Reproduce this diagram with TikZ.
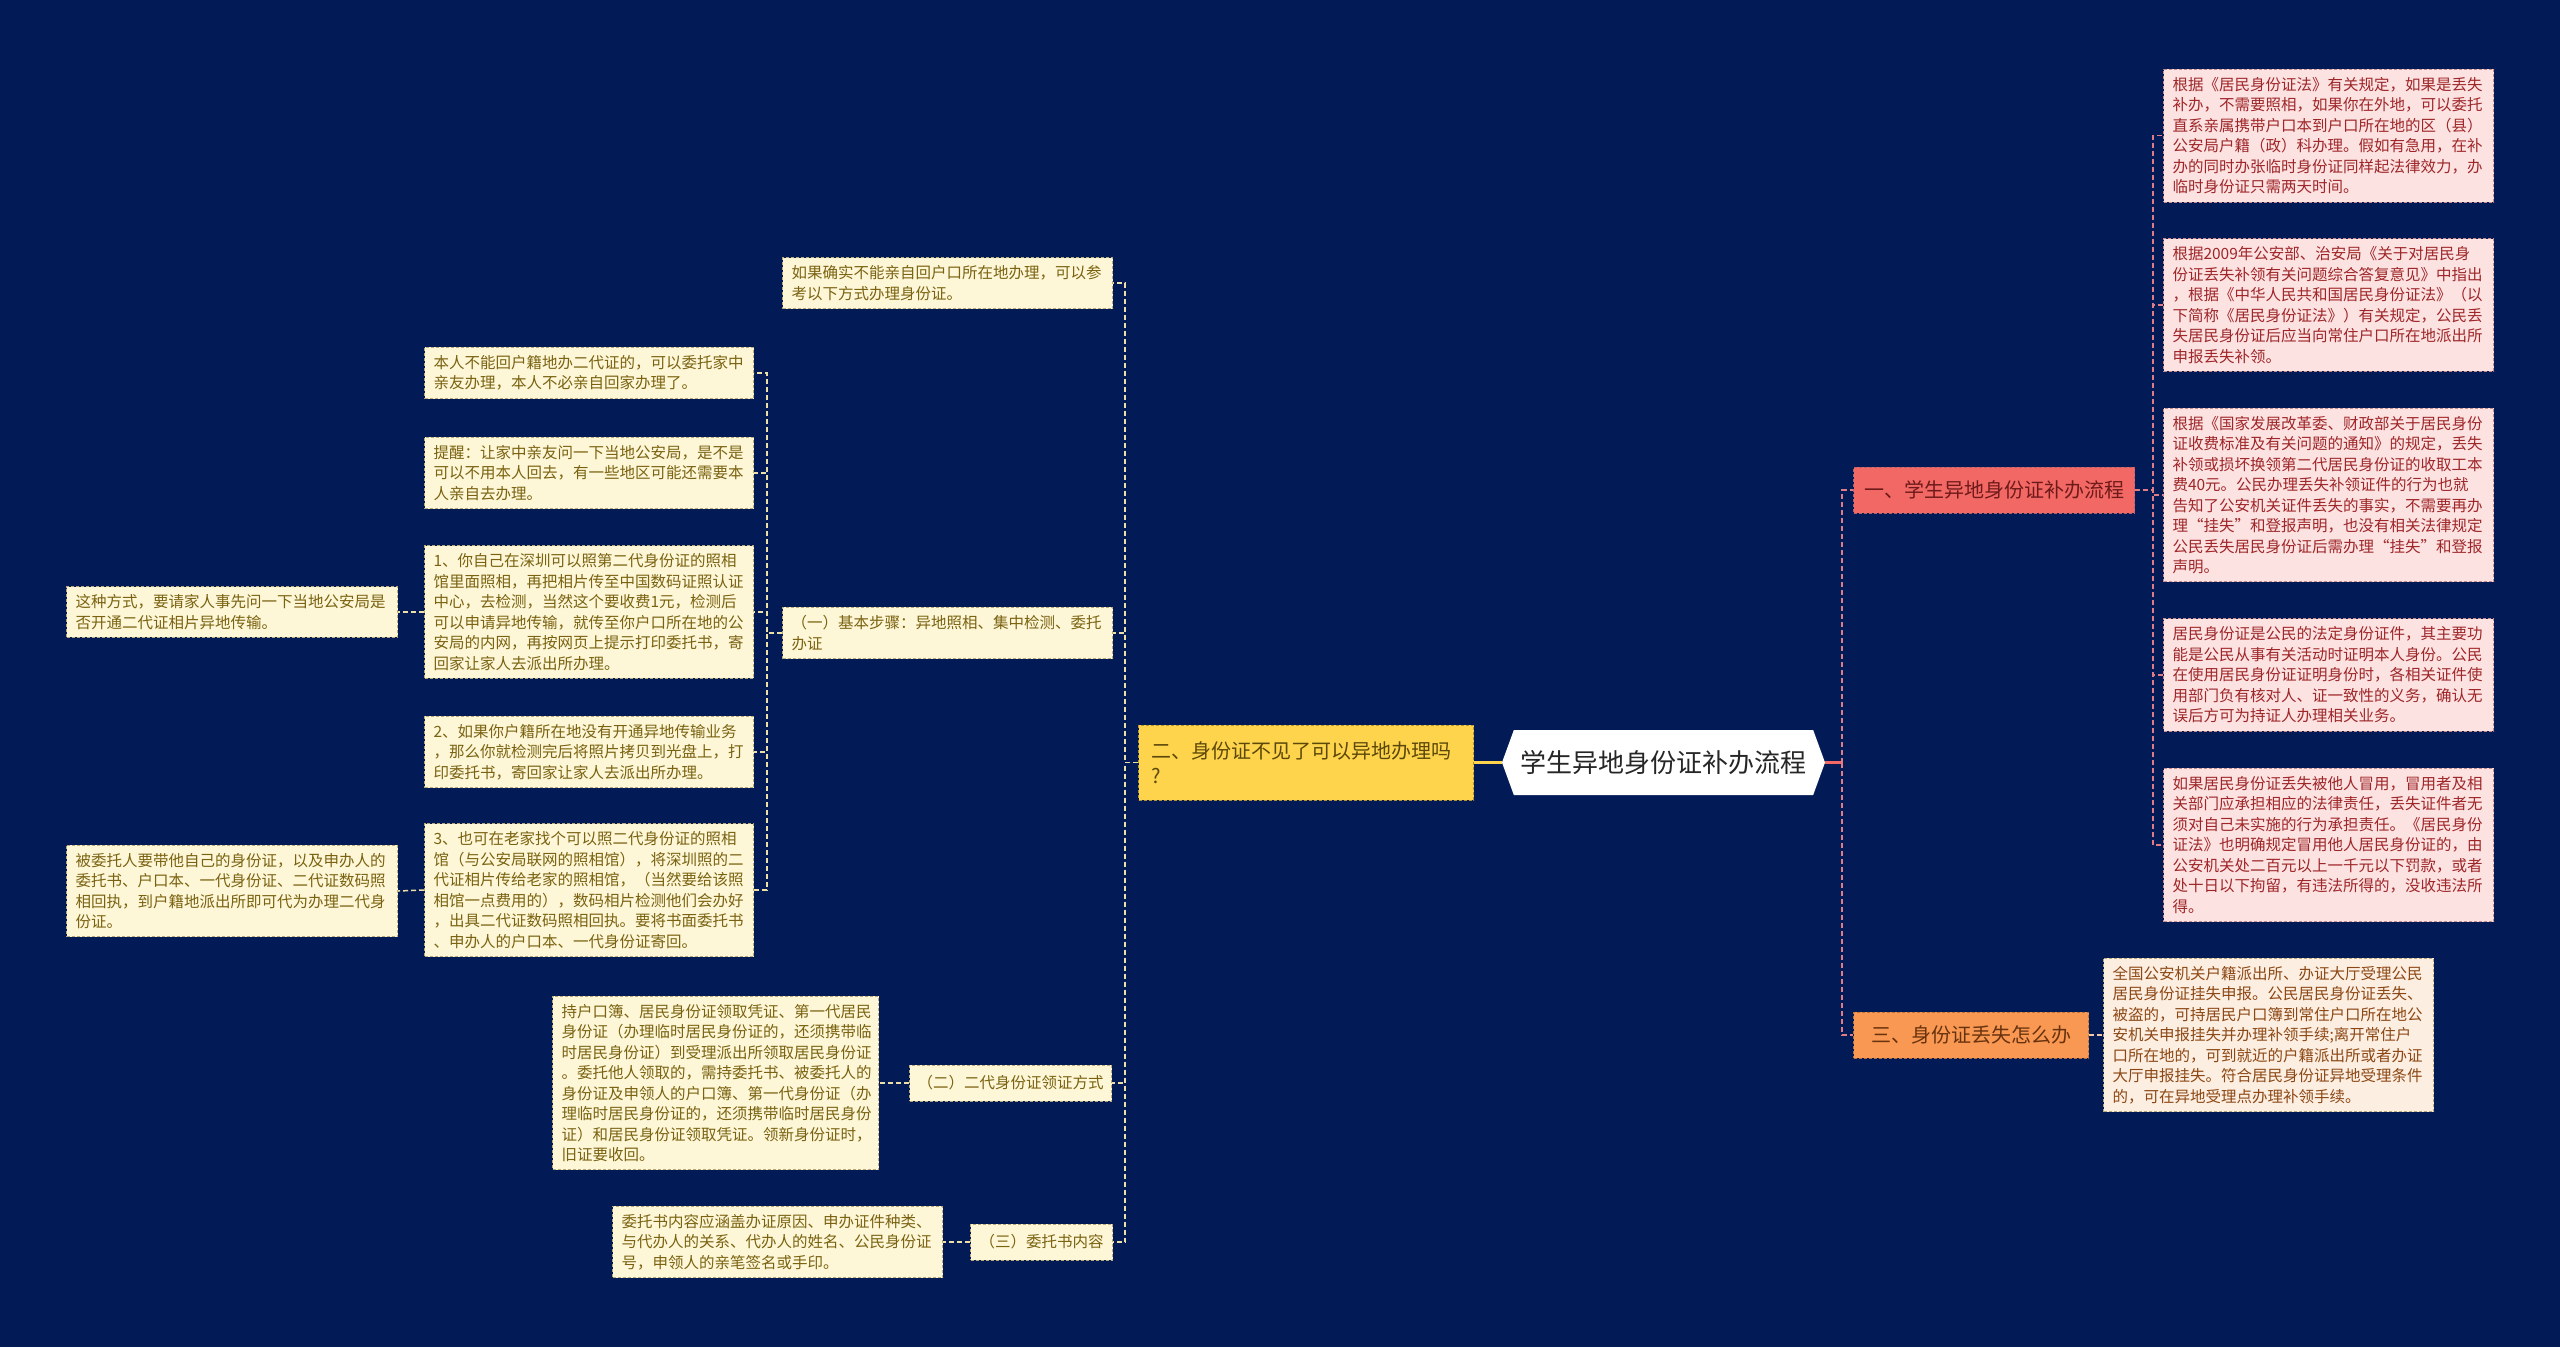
\documentclass[tikz,border=0pt]{standalone}
\usepackage{fontspec}
\setmainfont{Noto Sans CJK SC}
\usepackage{tikz}
\usetikzlibrary{shapes.symbols}
\definecolor{navy}{RGB}{2,26,86}
\definecolor{creamfill}{RGB}{253,247,216}
\definecolor{creamdraw}{RGB}{184,170,120}
\definecolor{creamtext}{RGB}{122,98,16}
\definecolor{pinkfill}{RGB}{253,226,226}
\definecolor{pinkdraw}{RGB}{200,140,140}
\definecolor{pinktext}{RGB}{158,38,40}
\definecolor{peachfill}{RGB}{253,238,226}
\definecolor{peachtext}{RGB}{140,72,20}
\definecolor{redfill}{RGB}{242,104,100}
\definecolor{redtext}{RGB}{110,26,26}
\definecolor{orangefill}{RGB}{248,152,82}
\definecolor{orangetext}{RGB}{104,50,14}
\definecolor{yellowfill}{RGB}{253,212,76}
\definecolor{yellowtext}{RGB}{92,72,10}
\definecolor{ledgecol}{RGB}{236,224,168}
\definecolor{redgecol}{RGB}{226,124,132}
\definecolor{peachedge}{RGB}{240,200,170}
\tikzstyle{note}=[draw=creamdraw,dash pattern=on 3pt off 2pt,line width=1pt,fill=creamfill,text=creamtext,anchor=west,align=left,inner xsep=9pt,inner ysep=8pt,font=\fontsize{15.5}{20.5}\selectfont]
\tikzstyle{pinknote}=[note,draw=pinkdraw,fill=pinkfill,text=pinktext,text width=312pt]
\tikzstyle{topic}=[dash pattern=on 3pt off 2pt,line width=1pt,anchor=west,inner xsep=9pt,font=\fontsize{20}{26}\selectfont]
\tikzstyle{ledge}=[draw=ledgecol,line width=1.5pt,dash pattern=on 5pt off 3pt]
\tikzstyle{redge}=[draw=redgecol,line width=1.5pt,dash pattern=on 5pt off 3pt]

\begin{document}
\begin{tikzpicture}[x=1pt,y=-1pt]
        \fill[navy] (0,0) rectangle (2560,1347);
        \useasboundingbox (0,0) rectangle (2560,1347);

        % root
        \node[signal,signal to=west and east,signal pointer angle=140,fill=white,text=black!85,minimum width=323pt,minimum height=65pt,inner sep=0pt,font=\fontsize{26}{30}\selectfont] (root) at (1663.5,762.5) {学生异地身份证补办流程};
        \coordinate (jr) at (1842,762.5);

        % right side
        \node[topic,fill=redfill,draw=redgecol!80!black,text=redtext,minimum width=281pt,minimum height=46pt] (one) at (1853,490) {一、学生异地身份证补办流程};
        \node[topic,fill=orangefill,draw=orangefill!75!black,text=orangetext,minimum width=235pt,minimum height=46pt] (three) at (1853,1035) {三、身份证丢失怎么办};

        \node[pinknote] (r1) at (2163,135.5) {根据《居民身份证法》有关规定，如果是丢失\\补办，不需要照相，如果你在外地，可以委托\\直系亲属携带户口本到户口所在地的区（县）\\公安局户籍（政）科办理。假如有急用，在补\\办的同时办张临时身份证同样起法律效力，办\\临时身份证只需两天时间。};
        \node[pinknote] (r2) at (2163,305) {根据2009年公安部、治安局《关于对居民身\\份证丢失补领有关问题综合答复意见》中指出\\，根据《中华人民共和国居民身份证法》（以\\下简称《居民身份证法》）有关规定，公民丢\\失居民身份证后应当向常住户口所在地派出所\\申报丢失补领。};
        \node[pinknote] (r3) at (2163,495) {根据《国家发展改革委、财政部关于居民身份\\证收费标准及有关问题的通知》的规定，丢失\\补领或损坏换领第二代居民身份证的收取工本\\费40元。公民办理丢失补领证件的行为也就\\告知了公安机关证件丢失的事实，不需要再办\\理“挂失”和登报声明，也没有相关法律规定\\公民丢失居民身份证后需办理“挂失”和登报\\声明。};
        \node[pinknote] (r4) at (2163,675) {居民身份证是公民的法定身份证件，其主要功\\能是公民从事有关活动时证明本人身份。公民\\在使用居民身份证证明身份时，各相关证件使\\用部门负有核对人、证一致性的义务，确认无\\误后方可为持证人办理相关业务。};
        \node[pinknote] (r5) at (2163,845) {如果居民身份证丢失被他人冒用，冒用者及相\\关部门应承担相应的法律责任，丢失证件者无\\须对自己未实施的行为承担责任。《居民身份\\证法》也明确规定冒用他人居民身份证的，由\\公安机关处二百元以上一千元以下罚款，或者\\处十日以下拘留，有违法所得的，没收违法所\\得。};
        \node[pinknote,fill=peachfill,draw=creamdraw,text=peachtext] (r6) at (2103,1035) {全国公安机关户籍派出所、办证大厅受理公民\\居民身份证挂失申报。公民居民身份证丢失、\\被盗的，可持居民户口簿到常住户口所在地公\\安机关申报挂失并办理补领手续;离开常住户\\口所在地的，可到就近的户籍派出所或者办证\\大厅申报挂失。符合居民身份证异地受理条件\\的，可在异地受理点办理补领手续。};

        % left side
        \node[topic,fill=yellowfill,draw=yellowfill!70!black,text=yellowtext,text width=309pt,align=left,inner xsep=13pt,minimum height=75pt,font=\fontsize{20}{25}\selectfont] (two) at (1138,762.5) {二、身份证不见了可以异地办理吗\\?};

        \node[note,text width=312pt] (a1) at (782,283) {如果确实不能亲自回户口所在地办理，可以参\\考以下方式办理身份证。};
        \node[note,text width=312pt] (a2) at (782,633) {（一）基本步骤：异地照相、集中检测、委托\\办证};
        \node[note,inner xsep=8pt,minimum height=36pt] (a3) at (909,1083) {（二）二代身份证领证方式};
        \node[note,minimum height=36pt] (a4) at (970,1242) {（三）委托书内容};

        \node[note,text width=311pt] (b1) at (424,373) {本人不能回户籍地办二代证的，可以委托家中\\亲友办理，本人不必亲自回家办理了。};
        \node[note,text width=311pt] (b2) at (424,473) {提醒：让家中亲友问一下当地公安局，是不是\\可以不用本人回去，有一些地区可能还需要本\\人亲自去办理。};
        \node[note,text width=311pt] (b3) at (424,612) {1、你自己在深圳可以照第二代身份证的照相\\馆里面照相，再把相片传至中国数码证照认证\\中心，去检测，当然这个要收费1元，检测后\\可以申请异地传输，就传至你户口所在地的公\\安局的内网，再按网页上提示打印委托书，寄\\回家让家人去派出所办理。};
        \node[note,text width=311pt] (b4) at (424,752) {2、如果你户籍所在地没有开通异地传输业务\\，那么你就检测完后将照片拷贝到光盘上，打\\印委托书，寄回家让家人去派出所办理。};
        \node[note,text width=311pt] (b5) at (424,890) {3、也可在老家找个可以照二代身份证的照相\\馆（与公安局联网的照相馆），将深圳照的二\\代证相片传给老家的照相馆，（当然要给该照\\相馆一点费用的），数码相片检测他们会办好\\，出具二代证数码照相回执。要将书面委托书\\、申办人的户口本、一代身份证寄回。};

        \node[note,text width=313pt] (c1) at (66,612) {这种方式，要请家人事先问一下当地公安局是\\否开通二代证相片异地传输。};
        \node[note,text width=313pt] (c2) at (66,891) {被委托人要带他自己的身份证，以及申办人的\\委托书、户口本、一代身份证、二代证数码照\\相回执，到户籍地派出所即可代为办理二代身\\份证。};

        \node[note,text width=308pt] (d1) at (552,1083) {持户口簿、居民身份证领取凭证、第一代居民\\身份证（办理临时居民身份证的，还须携带临\\时居民身份证）到受理派出所领取居民身份证\\。委托他人领取的，需持委托书、被委托人的\\身份证及申领人的户口簿、第一代身份证（办\\理临时居民身份证的，还须携带临时居民身份\\证）和居民身份证领取凭证。领新身份证时，\\旧证要收回。};
        \node[note,text width=312pt] (d2) at (612,1242) {委托书内容应涵盖办证原因、申办证件种类、\\与代办人的关系、代办人的姓名、公民身份证\\号，申领人的亲笔签名或手印。};

        % links
        \draw[draw=yellowfill,line width=3pt] (root.west) -- (two.east);
        \draw[draw=redfill,line width=3pt] (root.east) -- (jr);
        \draw[redge] (jr) |- (one.west);
        \draw[redge] (jr) |- (three.west);
        \draw[redge] (one.east) -- ++(18,0) |- (r1.west);
        \draw[redge] (one.east) -- ++(18,0) |- (r2.west);
        \draw[redge] (one.east) -- ++(18,0) |- (r3.west);
        \draw[redge] (one.east) -- ++(18,0) |- (r4.west);
        \draw[redge] (one.east) -- ++(18,0) |- (r5.west);
        \draw[ledge,draw=peachedge] (three.east) -- (r6.west);

        \draw[ledge] (two.west) -- ++(-13,0) |- (a1.east);
        \draw[ledge] (two.west) -- ++(-13,0) |- (a2.east);
        \draw[ledge] (two.west) -- ++(-13,0) |- (a3.east);
        \draw[ledge] (two.west) -- ++(-13,0) |- (a4.east);
        \draw[ledge] (a2.west) -- ++(-15,0) |- (b1.east);
        \draw[ledge] (a2.west) -- ++(-15,0) |- (b2.east);
        \draw[ledge] (a2.west) -- ++(-15,0) |- (b3.east);
        \draw[ledge] (a2.west) -- ++(-15,0) |- (b4.east);
        \draw[ledge] (a2.west) -- ++(-15,0) |- (b5.east);
        \draw[ledge] (b3.west) -- (c1.east);
        \draw[ledge] (b5.west) -- (c2.east);
        \draw[ledge] (a3.west) -- (d1.east);
        \draw[ledge] (a4.west) -- (d2.east);

      \end{tikzpicture}
\end{document}
